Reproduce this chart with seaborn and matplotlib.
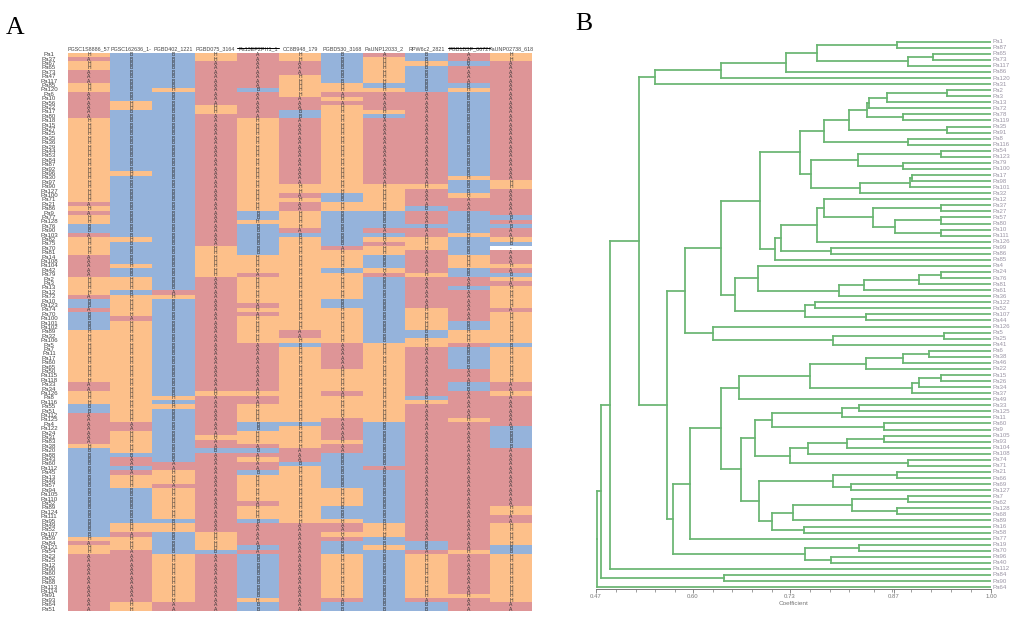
import numpy as np
import matplotlib
matplotlib.use("Agg")
import matplotlib.pyplot as plt
from matplotlib.colors import ListedColormap
import seaborn as sns

sample_labels = """Pa1 Pa37 Pa67 Pa65 Pa73 Pa47 Pa117 Pa85 Pa120 Pa6 Pa10 Pa56 Pa22 Pa17 Pa80 Pa18 Pa15 Pa27 Pa25 Pa35 Pa36 Pa29
Pa44 Pa53 Pa84 Pa87 Pa92 Pa96 Pa30 Pa97 Pa90 Pa127 Pa100 Pa71 Pa21 Pa86 Pa9 Pa77 Pa128 Pa76 Pa90 Pa103 Pa82 Pa75 Pa70 Pa81 Pa14 Pa108 Pa104 Pa42 Pa79 Pa2 Pa3 Pa13 Pa12 Pa72 Pa10 Pa123 Pa74
Pa70 Pa100 Pa101 Pa102 Pa89 Pa32 Pa106 Pa5 Pa7 Pa11 Pa17 Pa60 Pa65 Pa50 Pa115 Pa118 Pa33 Pa34 Pa126 Pa8 Pa116 Pa55 Pa51 Pa112 Pa125 Pa4 Pa122 Pa24 Pa31 Pa83 Pa38 Pa20 Pa88 Pa43 Pa60 Pa112
Pa45 Pa13 Pa46 Pa57 Pa94 Pa105 Pa110 Pa52 Pa89 Pa124 Pa111 Pa95 Pa49 Pa52 Pa107 Pa59 Pa84 Pa121 Pa54 Pa23 Pa25 Pa12 Pa90 Pa60 Pa82 Pa68 Pa113 Pa114 Pa91 Pa93 Pa64 Pa51""".split()

marker_labels = ["PGSC1S8886_57", "PGSC162636_1-", "PGBD402_1221", "PGBD075_3164", "Pa13EP2PH1_1",
                 "CC8B948_179", "PGBD530_3168", "PaUNP12033_2", "RPW6c2_2821", "PGB1BSP_0672", "PaUNP02738_618"]

col1 = "H1 A1 H2 A3 H2 A6 H19 A1 H1 A1 H2 B2 A1 H4 A5 H4 A1 B2 A1 B4 H12 A2 H3 B2 A7 H1 B20 H1 A1 H2 A13"
col2 = "B11 H2 B14 H1 B14 H1 B5 H1 B2 H3 B1 H5 A1 H23 A2 H5 B1 A2 B1 A1 H3 B8 H2 A1 H3 A12 H2"
col3 = "B8 H1 B45 A1 H1 B22 H1 B1 H1 B12 A2 H3 A1 H7 B1 H2 B5 H11 A2"
col4 = "H2 A10 H2 A30 H7 A26 H1 A9 H1 A2 B1 A18 H4 B1 A13"
col5 = "A8 B1 A6 H21 B2 H1 B7 H4 A1 H6 A1 H1 A1 H6 A11 H1 A2 H4 B2 H3 A1 B1 A1 H1 A2 B1 H6 A1 H3 B1 A5 B1 A1 B10 H1 B2"
col6 = "H2 A3 H5 A3 B2 A15 H2 A1 H1 A2 H4 A1 B1 H21 A2 H1 B1 H17 B1 H5 A3 B1 H13 A20"
col7 = "B7 H2 A1 H1 A1 H20 B2 H2 B8 A1 H4 B1 H6 B2 H8 A6 H5 A1 H5 A5 H1 A2 B8 H4 B3 H1 A2 H1 A1 B3 H10 A1 B2"
col8 = "A1 H6 B1 H1 A4 H1 B1 A15 H6 B4 A1 B1 H1 A1 H2 B3 H1 A1 B15 H18 B10 A1 B12 H3 B2 H1 B14"
col9 = "B2 H1 B6 A21 H1 A4 B1 A3 B1 A2 H3 A5 H1 A7 H5 B2 H2 A11 B1 H1 A31 B2 A1 H10 A1 B2"
col10 = "A2 B1 A4 B1 H1 B19 H1 B3 H1 A3 B5 H1 B4 H3 B2 A2 B1 A7 B2 H3 A1 B5 A3 B2 A6 H1 A29 H1 A9 H1 A3"
col11 = "H2 A27 H2 A6 B1 A1 B1 A2 H1 B1 -1 A3 H1 A1 B1 H1 A1 H5 A1 H7 B1 H8 A2 H1 A7 B5 A13 H2 A2 H5 B2 H11 A2"
genotype_columns = [col1, col2, col3, col4, col5, col6, col7, col8, col9, col10, col11]

genotype_codes = {"H": 0, "A": 1, "B": 2, "-": 3}
genotype_colours = ["#FDC08A", "#DE9597", "#95B3DB", "#FFFFFF"]

tree_labels = """Pa1 Pa87 Pa65 Pa73 Pa117 Pa86 Pa120 Pa31 Pa2 Pa3 Pa13 Pa72 Pa78 Pa119 Pa35 Pa91 Pa8 Pa116 Pa54 Pa123 Pa79 Pa100 Pa17 Pa98 Pa101 Pa32
Pa12 Pa37 Pa27 Pa57 Pa80 Pa10 Pa111 Pa126 Pa99 Pa86 Pa85 Pa4 Pa24 Pa76 Pa81 Pa61 Pa36 Pa122 Pa52 Pa107 Pa44 Pa126 Pa5 Pa25 Pa41
Pa6 Pa38 Pa46 Pa22 Pa15 Pa26 Pa34 Pa37 Pa49 Pa33 Pa125 Pa11 Pa60 Pa9 Pa105 Pa93 Pa104 Pa108 Pa74 Pa71 Pa21 Pa66 Pa69 Pa127 Pa7 Pa62 Pa128
Pa68 Pa89 Pa16 Pa58 Pa77 Pa19 Pa70 Pa96 Pa40 Pa112 Pa84 Pa90 Pa64""".split()

# merge coefficient, first child, second child; an integer child is a leaf
c1 = (.5496, (.6373, (.7250, (.7662, (.8745, 0, 1), (.8892, (.9228, 2, 3), 4)), 5), 6), 7)
n778 = (.8100, (.8342, (.8369, (.8602, (.9407, 8, 9), 10), 11), (.8825, 12, 13)), (.9416, 14, 15))
n703 = (.7765, n778, (.8892, 16, 17))
n663 = (.7586, (.8212, (.9331, 18, 19), (.8825, 20, 21)), (.8244, (.8915, (.8946, 22, 23), 24), 25))
n630 = (.7438, n703, n663)
n555 = (.7103, (.7179, (.7662, (.7765, 26, (.8414, (.9326, 27, 28), (.8714, (.9326, 29, 30), (.9326, 31, 32)))), 33),
                (.7854, 34, 35)), 36)
n510 = (.6901, n630, n555)
n435 = (.6566, (.6879, 37, (.7966, (.8302, (.9040, (.9331, 38, 39), 40), 41), 42)),
        (.7505, (.7640, 43, 44), (.8324, 45, 46)))
n392a = (.6373, n510, n435)
n368 = (.6266, 47, (.7886, (.9371, 48, 49), 50))
n285 = (.5895, n392a, n368)
n447 = (.6619, (.7572, (.8324, (.8816, (.9170, 51, 52), 53), 54), (.8946, (.9040, (.9331, 55, 56), 57), 58)), 59)
n495 = (.6834, (.7058, (.8007, (.8230, 60, 61), 62), (.8566, 63, 64)),
        (.7304, (.7550, (.8065, (.8566, 65, 66), 67), 68), (.8884, 69, 70)))
n508 = (.6892, (.7886, (.8745, 71, 72), (.8118, 73, 74)),
        (.7058, (.7349, (.8141, (.8884, 75, 76), (.8745, 77, 78)), 79), (.7496, 80, 81)))
n452 = (.6642, n495, n508)
n392b = (.6373, n447, n452)
n300 = (.5962, n392b, 82)
n250 = (.5738, n300, (.7505, (.8230, 83, 84), (.7854, 85, 86)))
n230 = (.5649, n285, n250)
n148 = (.5282, c1, n230)
n60 = (.4888, n148, 87)
n32 = (.4763, n60, (.6423, 88, 89))
tree_root = (.4718, n32, 90)

coef_ticks = [0.47, 0.60, 0.73, 0.87, 1.00]
coef_minor = [0.4965, 0.523, 0.5495, 0.576, 0.6265, 0.653, 0.6795, 0.706, 0.7565, 0.7835, 0.81, 0.8435,
              0.8665, 0.893, 0.9195, 0.946, 0.9725]


def expand(col):
    letters = []
    for run in col.split():
        letters += [run[0]] * int(run[1:])
    return letters


W, H = 1022, 632
sns.set_style("white")
plt.rcParams["font.family"] = ["Liberation Sans", "DejaVu Sans"]
fig = plt.figure(figsize=(W / 100, H / 100), dpi=100)


def px_axes(x0, y0, x1, y1):
    return fig.add_axes([x0 / W, 1 - y1 / H, (x1 - x0) / W, (y1 - y0) / H])


# Panel A
letters = np.array([expand(c) for c in genotype_columns]).T
codes = np.vectorize(genotype_codes.get)(letters)
ax = px_axes(68, 52.5, 532, 611.3)
sns.heatmap(codes, ax=ax, cmap=ListedColormap(genotype_colours), vmin=-0.5, vmax=3.5, cbar=False,
            annot=letters, fmt="", annot_kws={"size": 3.6, "color": "#333333"},
            xticklabels=marker_labels, yticklabels=False)
ax.xaxis.tick_top()
ax.tick_params(axis="x", length=0, pad=0.6, labelsize=3.9, labelcolor="#444444", rotation=0)
for i in (4, 9):
    ax.plot([i, i + 1], [-1.02, -1.02], color="black", lw=0.7, clip_on=False)
for i, lab in enumerate(sample_labels):
    ax.text(-0.45, i + 0.5, lab, ha="center", va="center", fontsize=4.4, color="#444444", clip_on=False)

# Panel B
dax = px_axes(596, 36, 991, 589.3)
leaf_pitch_top, leaf_pitch_bottom = -0.94, 90.36
line_kw = dict(color="#69b571", lw=1.25, solid_capstyle="projecting")


def draw(node):
    if isinstance(node, int):
        return 1.0, float(node)
    c, a, b = node
    ca, ya = draw(a)
    cb, yb = draw(b)
    dax.plot([c, c], [ya, yb], **line_kw)
    dax.plot([c, ca], [ya, ya], **line_kw)
    dax.plot([c, cb], [yb, yb], **line_kw)
    return c, (ya + yb) / 2


root_c, root_y = draw(tree_root)
dax.plot([0.47, root_c], [root_y, root_y], **line_kw)
dax.set_xlim(0.47, 1.0)
dax.set_ylim(leaf_pitch_bottom, leaf_pitch_top)
dax.set_yticks([])
for s in ("top", "left", "right"):
    dax.spines[s].set_visible(False)
dax.spines["bottom"].set_color("#777777")
dax.spines["bottom"].set_linewidth(0.7)
dax.set_xticks(coef_ticks)
dax.set_xticklabels([f"{t:.2f}" for t in coef_ticks])
dax.set_xticks(coef_minor, minor=True)
dax.tick_params(axis="x", which="major", bottom=True, length=3, width=0.6, color="#777777",
                labelsize=4.3, labelcolor="#777777", pad=0.5)
dax.tick_params(axis="x", which="minor", bottom=True, length=2, width=0.5, color="#777777")
dax.set_xlabel("Coefficient", fontsize=4.6, color="#777777", labelpad=1.5)
for i, lab in enumerate(tree_labels):
    dax.text(1.0025, i, lab, ha="left", va="center", fontsize=4.4, color="#9a94a4", clip_on=False)

fig.text(6 / W, 1 - 34 / H, "A", family="Liberation Serif", fontsize=18.5, color="black")
fig.text(575 / W, 1 - 30 / H, "B", family="Liberation Serif", fontsize=18.5, color="black")

fig.savefig("out.png", dpi=100, facecolor="white")
